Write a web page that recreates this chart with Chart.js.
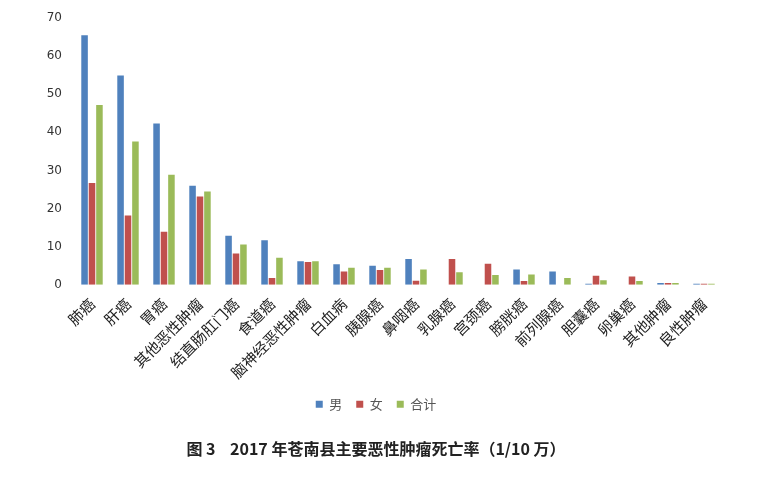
<!DOCTYPE html>
<html>
<head>
<meta charset="utf-8">
<script src="https://cdn.jsdelivr.net/npm/chart.js@4"></script>
<style>
html,body{margin:0;padding:0;background:#fff;}
#wrap{width:767px;height:490px;}
</style>
</head>
<body>
<div id="wrap"><canvas id="c" width="767" height="490"></canvas></div>
<script>
const categories = ["肺癌","肝癌","胃癌","其他恶性肿瘤","结直肠肛门癌","食道癌","脑神经恶性肿瘤","白血病","胰腺癌","鼻咽癌","乳腺癌","宫颈癌","膀胱癌","前列腺癌","胆囊癌","卵巢癌","其他肿瘤","良性肿瘤"];
const male   = [65.5, 54.9, 42.3, 26.0, 12.9, 11.7, 6.2, 5.4, 5.0, 6.8, 0,   0,   4.0, 3.5, 0.3, 0,   0.5, 0.3];
const female = [26.7, 18.2, 13.9, 23.2, 8.2,  1.8,  6.0, 3.5, 3.9, 1.1, 6.8, 5.5, 1.0, 0,   2.4, 2.2, 0.5, 0.3];
const total  = [47.2, 37.6, 28.9, 24.5, 10.6, 7.1,  6.2, 4.5, 4.5, 4.0, 3.3, 2.6, 2.7, 1.8, 1.2, 1.0, 0.5, 0.3];
const seriesNames = ["男","女","合计"];
const yTicks = [0,10,20,30,40,50,60,70];
const titleText = "图 3    2017 年苍南县主要恶性肿瘤死亡率（1/10 万）";

const colors = ["#4F81BD","#C0504D","#9BBB59"];
const cjk = "'Noto Sans CJK SC', sans-serif";

new Chart(document.getElementById('c'), {
  type: 'bar',
  data: {
    labels: categories,
    datasets: [male, female, total].map((d, i) => ({
      label: seriesNames[i],
      data: d,
      backgroundColor: colors[i],
      borderWidth: 0,
      categoryPercentage: 0.62,
      barPercentage: 0.88
    }))
  },
  options: {
    responsive: false,
    animation: false,
    layout: { padding: { top: 18, left: 30, right: 45, bottom: 31 } },
    scales: {
      x: {
        grid: { display: false },
        border: { display: false },
        ticks: {
          minRotation: 45, maxRotation: 45, autoSkip: false,
          color: '#222', padding: 2,
          font: { family: cjk, size: 15 }
        }
      },
      y: {
        min: 0, max: 70,
        afterBuildTicks: (ax) => { ax.ticks = yTicks.map(v => ({ value: v })); },
        afterFit: (ax) => { ax.width = 44; },
        grid: { display: false },
        border: { display: false },
        ticks: { color: '#333', padding: 4, font: { family: "'DejaVu Sans', sans-serif", size: 12 } }
      }
    },
    plugins: {
      legend: {
        position: 'bottom',
        labels: {
          boxWidth: 7, boxHeight: 7, padding: 14,
          color: '#555', font: { family: cjk, size: 13 }
        }
      },
      title: {
        display: true,
        position: 'bottom',
        text: titleText,
        color: '#222',
        padding: { top: 19, bottom: 0 },
        font: { family: cjk, size: 16, weight: 'bold' }
      },
      tooltip: { enabled: false }
    }
  }
});
</script>
</body>
</html>
